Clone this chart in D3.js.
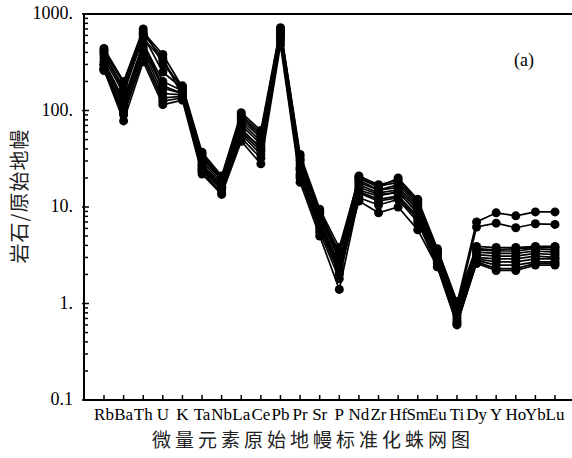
<!DOCTYPE html>
<html>
<head>
<meta charset="utf-8">
<script src="https://cdn.jsdelivr.net/npm/d3@7"></script>
<style>
  body { margin: 0; background: #fff; }
  svg { display: block; }
  .serif { font-family: "Liberation Serif", "Times New Roman", Tinos, "DejaVu Serif", serif; }
  .cjk { font-family: "Noto Sans CJK SC", sans-serif; }
</style>
</head>
<body>
<svg id="chart"></svg>
<script>
// trace elements, in plotting order
const elements = ["Rb","Ba","Th","U","K","Ta","Nb","La","Ce","Pb","Pr","Sr","P",
  "Nd","Zr","Hf","Sm","Eu","Ti","Dy","Y","Ho","Yb","Lu"];

// primitive-mantle normalized values, one array per sample
const s1  = [420,190,650,380,175,35,20,90,58,700,33,9.0,3.4,21,17,19,11.5,3.6,1.0,7.0,8.7,8.1,8.9,8.9];
const s2  = [380,160,560,330,165,32,19,80,52,650,30,8.5,3.0,19,15,17,10.5,3.4,0.9,6.2,6.8,6.1,6.7,6.6];
const s3  = [440,200,700,300,180,37,21,95,62,720,35,9.5,3.8,20,16,20,12,3.7,1.05,3.9,3.8,3.8,3.9,3.9];
const s4  = [350,150,600,250,170,30,18,75,48,680,28,8.0,2.8,18,15,16,10,3.3,0.95,3.6,3.5,3.5,3.7,3.6];
const s5  = [320,130,500,200,160,28,17,70,45,640,26,7.5,2.5,17,14,15,9.5,3.1,0.85,3.4,3.3,3.3,3.5,3.4];
const s6  = [300,115,450,170,150,26,16,65,40,600,24,7.0,2.3,16,13.5,14,9.0,3.0,0.8,3.2,3.1,3.1,3.3,3.2];
const s7  = [280,105,420,150,145,25,15.5,60,38,580,22,6.5,2.1,15,13,14.5,8.5,2.8,0.75,3.0,2.9,2.9,3.1,3.0];
const s8  = [270,95,380,135,140,24,15,57,35,560,21,6.0,2.0,14.5,12,13,8.0,2.7,0.7,2.9,2.7,2.7,2.9,2.9];
const s9  = [260,90,350,125,135,23,14,52,32,520,20,5.5,1.8,14,11.5,12.5,7.5,2.6,0.65,2.8,2.5,2.5,2.7,2.7];
const s10 = [265,78,320,115,128,22,13.5,48,28,480,18,5.0,1.4,12.5,10.5,12,7.0,2.4,0.6,2.7,2.3,2.3,2.6,2.6];
const s11 = [300,120,480,180,150,27,16,62,42,620,25,6.8,2.2,11.5,8.7,10,5.8,2.4,0.62,2.6,2.2,2.2,2.5,2.5];
const s12 = [400,170,620,350,140,33,19.5,85,55,690,31,8.8,3.2,20,16.5,18,11,3.5,1.0,3.7,3.6,3.7,3.8,3.8];
const samples = [s1,s2,s3,s4,s5,s6,s7,s8,s9,s10,s11,s12];

const yTicks = [0.1, 1, 10, 100, 1000];
const yTickLabels = ["0.1", "1.", "10.", "100.", "1000."];

const W = 572, H = 458;
const plotLeft = 84, plotTop = 14, plotBottom = 400;

const svg = d3.select("#chart").attr("width", W).attr("height", H);

const x = d3.scalePoint().domain(elements).range([104, 555]);
const y = d3.scaleLog().domain([0.1, 1000]).range([plotBottom, plotTop]);

// frame: left, top, bottom (runs off the right edge)
svg.append("line").attr("x1", plotLeft).attr("x2", W).attr("y1", plotTop).attr("y2", plotTop)
  .attr("stroke", "#000").attr("stroke-width", 2);
svg.append("line").attr("x1", plotLeft).attr("x2", W).attr("y1", plotBottom).attr("y2", plotBottom)
  .attr("stroke", "#000").attr("stroke-width", 2);
svg.append("line").attr("x1", plotLeft).attr("x2", plotLeft).attr("y1", plotTop - 1).attr("y2", plotBottom + 1)
  .attr("stroke", "#000").attr("stroke-width", 2);

// y ticks, inward
const minor = [];
for (let d = 0.1; d < 1000; d *= 10) {
  for (let k = 2; k <= 9; k++) minor.push(d * k);
}
svg.append("g").selectAll("line").data(minor).enter().append("line")
  .attr("x1", plotLeft).attr("x2", plotLeft + 4)
  .attr("y1", d => y(d)).attr("y2", d => y(d))
  .attr("stroke", "#000").attr("stroke-width", 1.5);
svg.append("g").selectAll("line").data(yTicks).enter().append("line")
  .attr("x1", plotLeft - 2).attr("x2", plotLeft + 5)
  .attr("y1", d => y(d)).attr("y2", d => y(d))
  .attr("stroke", "#000").attr("stroke-width", 1.5);
svg.append("g").selectAll("text").data(yTicks).enter().append("text")
  .attr("class", "serif")
  .attr("x", plotLeft - 11).attr("y", d => y(d) + 5)
  .attr("text-anchor", "end")
  .style("font-size", "18px")
  .text((d, i) => yTickLabels[i]);

// x ticks, inward
svg.append("g").selectAll("line").data(elements).enter().append("line")
  .attr("x1", d => x(d)).attr("x2", d => x(d))
  .attr("y1", plotBottom).attr("y2", plotBottom - 5)
  .attr("stroke", "#000").attr("stroke-width", 1.5);
svg.append("g").selectAll("text").data(elements).enter().append("text")
  .attr("class", "serif")
  .attr("x", d => x(d)).attr("y", plotBottom + 20)
  .attr("text-anchor", "middle")
  .style("font-size", "17px")
  .text(d => d);

// axis titles
svg.append("text")
  .attr("class", "cjk")
  .attr("x", 313).attr("y", 447)
  .attr("text-anchor", "middle")
  .style("font-size", "19px")
  .style("letter-spacing", "4px").style("fill", "#222")
  .text("微量元素原始地幔标准化蛛网图");
svg.append("text")
  .attr("class", "cjk")
  .attr("transform", "translate(27,196) rotate(-90)")
  .attr("text-anchor", "middle")
  .style("font-size", "20px")
  .style("letter-spacing", "1px")
  .style("fill", "#222")
  .text("岩石/原始地幔");

svg.append("text")
  .attr("class", "serif")
  .attr("x", 524).attr("y", 66)
  .attr("text-anchor", "middle")
  .style("font-size", "18px")
  .text("(a)");

// sample lines and markers
const line = d3.line().x((d, i) => x(elements[i])).y(d => y(d));
const plot = svg.append("g");
plot.selectAll("path").data(samples).enter().append("path")
  .attr("d", line)
  .attr("fill", "none").attr("stroke", "#000").attr("stroke-width", 1.7);
samples.forEach(s => {
  plot.append("g").selectAll("circle").data(s).enter().append("circle")
    .attr("cx", (d, i) => x(elements[i])).attr("cy", d => y(d))
    .attr("r", 4.5).attr("fill", "#000");
});
</script>
</body>
</html>
